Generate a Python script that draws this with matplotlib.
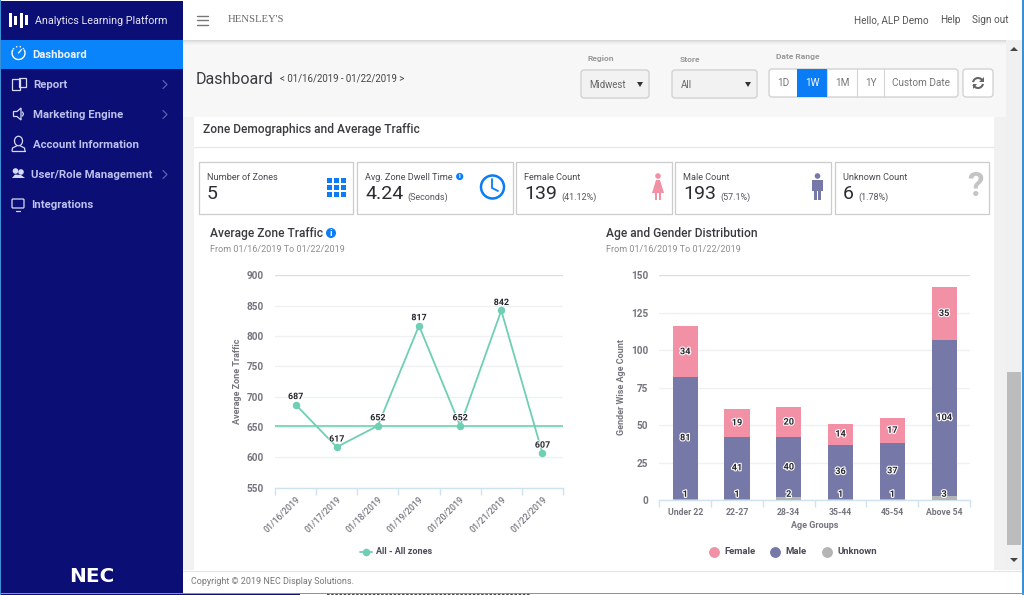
import matplotlib
matplotlib.use('Agg')
import matplotlib.pyplot as plt
import matplotlib.patheffects as pe
from matplotlib.patches import Rectangle, FancyBboxPatch, Circle, Polygon, Arc, Ellipse

plt.rcParams['font.family'] = ['Roboto', 'DejaVu Sans']

# chart data
dates = ['01/16/2019', '01/17/2019', '01/18/2019', '01/19/2019', '01/20/2019', '01/21/2019', '01/22/2019']
traffic = [687, 617, 652, 817, 652, 842, 607]
traffic_avg = 652
traffic_ticks = [550, 600, 650, 700, 750, 800, 850, 900]

age_groups = ['Under 22', '22-27', '28-34', '35-44', '45-54', 'Above 54']
unknown = [1, 1, 2, 1, 1, 3]
male = [81, 41, 40, 36, 37, 104]
female = [34, 19, 20, 14, 17, 35]
age_ticks = [0, 25, 50, 75, 100, 125, 150]

# sidebar and card text
menu_items = ['Report', 'Marketing Engine', 'Account Information', 'User/Role Management', 'Integrations']
card_titles = ['Number of Zones', 'Avg. Zone Dwell Time', 'Female Count', 'Male Count', 'Unknown Count']
card_values = ['5', '4.24', '139', '193', '6']
card_notes = ['', '(Seconds)', '(41.12%)', '(57.1%)', '(1.78%)']
range_buttons = ['1D', '1W', '1M', '1Y', 'Custom Date']

NAVY = '#0b0f75'
BLUE = '#0a7cf5'
TEAL = '#6fcfb4'
PINK = '#f291a6'
PURPLE = '#7679a8'
GREY = '#b4b4b4'
DARK = '#33343c'
MID = '#75757f'
AXIS = '#cfe3ee'
GRID = '#eef0f2'
ICON = '#d8daf4'

W, H = 1024, 595
fig = plt.figure(figsize=(W / 100, H / 100), dpi=100, facecolor='white')

# page layer in pixel coordinates
ui = fig.add_axes([0, 0, 1, 1])
ui.set_xlim(0, W)
ui.set_ylim(H, 0)
ui.axis('off')


def box(x0, y0, x1, y1, fc, ec='none', lw=0, z=1):
    ui.add_patch(Rectangle((x0, y0), x1 - x0, y1 - y0, fc=fc, ec=ec, lw=lw, zorder=z))


def label(x, y, s, px=10, color=DARK, weight='normal', ha='left', va='center', **kw):
    return ui.text(x, y, s, fontsize=px * 0.72, color=color, fontweight=weight, ha=ha, va=va, zorder=5, **kw)


def rounded(x0, y0, x1, y1, fc, ec='#cfcfcf', r=3):
    ui.add_patch(FancyBboxPatch((x0 + r, y0 + r), x1 - x0 - 2 * r, y1 - y0 - 2 * r,
                                boxstyle='round,pad=%d' % r, fc=fc, ec=ec, lw=0.9, zorder=2))


def stroke(xs, ys, color=ICON, lw=0.9, z=5):
    ui.plot(xs, ys, color=color, lw=lw, zorder=z, solid_capstyle='round')


# backgrounds
box(183, 40, 1006, 117, '#f7f7f7')
box(183, 117, 194, 570, '#f1f1f1')
box(194, 117, 994, 570, 'white')
box(994, 117, 1006, 570, '#f1f1f1')
box(1006, 40, 1022, 570, '#f0f0f0')
box(183, 570, 1022, 593, 'white')
stroke([183, 1022], [570.5, 570.5], color='#e4e4e4', lw=0.8, z=2)
box(1007, 372, 1021, 545, '#bcbcbc', z=2)
ui.add_patch(Polygon([[1010, 51], [1018, 51], [1014, 47]], fc='#444444', zorder=3))
ui.add_patch(Polygon([[1010, 558], [1018, 558], [1014, 562]], fc='#444444', zorder=3))
box(1022, 0, 1024, 595, '#3b8fd6', z=3)
box(0, 592.5, 1024, 593.5, '#5aa0dc', z=4)
box(0, 593.5, 300, 595, NAVY, z=4)
ui.plot([327, 530], [594.6, 594.6], color='#222222', lw=1.2, ls=(0, (1.5, 1)), zorder=4)

# top bar with its soft shadow
box(183, 1, 1022, 40, 'white', z=2)
shadow = ['#d9d9d9', '#e2e2e2', '#eaeaea', '#f0f0f0', '#f4f4f4']
for i, c in enumerate(shadow):
    box(183, 40 + i, 1006, 41 + i, c, z=2)
for yy in [15.5, 20, 24.5]:
    stroke([197, 208], [yy, yy], color='#777777', lw=1.0)
label(228, 20, "HENSLEY'S", px=10.6, color='#666666', family='Liberation Serif')
label(854, 20, 'Hello, ALP Demo', px=10, color='#555555')
label(940, 20, 'Help', px=10, color='#555555')
label(972, 20, 'Sign out', px=10, color='#555555')

# sidebar
box(0, 1, 183, 592.5, NAVY, z=2)
box(0, 40, 183, 69, '#0a84fb', z=3)
box(0, 0, 1, 595, '#3b8fd6', z=4)
for bx, bh in zip([10, 15, 21, 26], [14, 9, 15, 10]):
    box(bx - 1.5, 20 - bh / 2, bx + 1.5, 20 + bh / 2, 'white', z=4)
label(35, 20.5, 'Analytics Learning Platform', px=10.8, color='#e8e8f5')
label(32, 54.5, 'Dashboard', px=11.3, color='#eef4ff', weight='bold')
menu_y = [84.5, 114.5, 144.5, 174.5, 204.5]
menu_x = [33, 33, 33, 31, 31]
for s, y, x in zip(menu_items, menu_y, menu_x):
    label(x, y, s, px=11.4, color='#bcc0ee', weight='bold')
for y in [84.5, 114.5, 174.5]:
    stroke([163, 167, 163], [y - 4, y, y + 4], color='#5a5fb0')

# sidebar icons
ui.add_patch(Arc((18.5, 53), 13, 13, theta1=-30, theta2=210, ec='white', lw=1.0, zorder=5))
ui.add_patch(Arc((18.5, 53), 13, 13, theta1=215, theta2=325, ec='white', lw=1.0, zorder=5, ls=':'))
stroke([18.5, 21.5], [53, 49.5], color='white')
box(12, 79, 20, 90, 'none', ec=ICON, lw=0.9, z=5)
box(19, 78, 25.5, 87, 'none', ec=ICON, lw=0.9, z=5)
ui.add_patch(Polygon([[13.5, 111.5], [17, 111.5], [21, 108], [21, 120], [17, 116.5], [13.5, 116.5]],
                     fc='none', ec=ICON, lw=0.9, zorder=5))
stroke([22.5, 23.5, 22.5], [112, 114, 116])
ui.add_patch(Ellipse((18.5, 141), 8, 9.5, fc='none', ec=ICON, lw=0.9, zorder=5))
stroke([12, 12.5, 16.5], [151, 148, 146])
stroke([25, 24.5, 20.5], [151, 148, 146])
stroke([12, 25], [151, 151])
ui.add_patch(Circle((15.5, 171), 2.8, fc=ICON, zorder=5))
ui.add_patch(Circle((21, 172), 2.8, fc=ICON, zorder=5))
ui.add_patch(Polygon([[12, 178], [15, 174.5], [21, 175], [25, 178]], fc=ICON, zorder=5))
rounded(12, 199, 24, 208, 'none', ec=ICON, r=1)
stroke([16, 20], [210.5, 210.5])
label(91.5, 577, 'NEC', px=20, color='white', weight='bold', ha='center', family='DejaVu Sans')

# header row
label(196, 79, 'Dashboard', px=16, color='#3a3a40')
label(280, 79, '< 01/16/2019 - 01/22/2019 >', px=9.7, color='#444444')
label(588, 59, 'Region', px=8.5, color='#999999', weight='bold')
label(680, 59, 'Store', px=8.5, color='#999999', weight='bold')
label(776, 57, 'Date Range', px=8.5, color='#999999', weight='bold')
rounded(581, 70, 649, 98, '#f2f2f2')
rounded(672, 70, 757, 98, '#f2f2f2')
label(589, 85, 'Midwest', px=9.7, color='#666666')
label(681, 85, 'All', px=9.7, color='#666666')
for tx in [640, 748]:
    ui.add_patch(Polygon([[tx - 3, 82], [tx + 3, 82], [tx, 87]], fc='#333333', zorder=5))
rounded(769, 69, 958, 97, 'white')
edges = [769, 797, 827, 857, 884, 958]
for i, s in enumerate(range_buttons):
    if i == 1:
        box(edges[i], 69, edges[i + 1], 97, BLUE, z=3)
    elif i > 1:
        stroke([edges[i], edges[i]], [69, 97], color='#d5d5d5', lw=0.8, z=3)
    label((edges[i] + edges[i + 1]) / 2, 83.5, s, px=10, color='white' if i == 1 else '#777777', ha='center')
rounded(963, 69, 993, 97, 'white')
ui.add_patch(Arc((978, 83), 10, 10, theta1=190, theta2=340, ec='#666666', lw=1.5, zorder=5))
ui.add_patch(Arc((978, 83), 10, 10, theta1=10, theta2=160, ec='#666666', lw=1.5, zorder=5))
ui.add_patch(Polygon([[983.5, 77], [983.5, 82], [979, 82]], fc='#666666', zorder=5))
ui.add_patch(Polygon([[972.5, 89], [972.5, 84], [977, 84]], fc='#666666', zorder=5))

# section title
label(203, 130, 'Zone Demographics and Average Traffic', px=12, color='#3a3a40', weight='medium')
stroke([194, 994], [146.5, 146.5], color='#e6e6e6', lw=0.8, z=2)

# summary cards
card_x0 = [199, 357, 516, 675, 835]
card_x1 = [353, 513, 672, 831, 989]
note_x = [0, 407, 561, 720, 858]
for x0, x1, t, v, n, nx in zip(card_x0, card_x1, card_titles, card_values, card_notes, note_x):
    box(x0, 162, x1, 214, 'white', ec='#cccccc', lw=0.9, z=2)
    label(x0 + 8, 177, t, px=9.2, color='#4a4a50')
    label(x0 + 8, 194, v, px=19.5, color='#2b2b33')
    if n:
        label(nx, 197, n, px=9, color='#55555c')

# card icons
for cx in [329, 336, 343]:
    for cy in [180.5, 187.5, 194.5]:
        box(cx - 2.5, cy - 2.5, cx + 2.5, cy + 2.5, BLUE, z=4)
ui.add_patch(Circle((492.5, 187), 11.5, fc='none', ec=BLUE, lw=1.8, zorder=4))
stroke([492, 492, 498], [179, 188, 191], color=BLUE, lw=1.3)
ui.add_patch(Circle((658, 176), 2.8, fc=PINK, zorder=4))
ui.add_patch(Polygon([[656, 180], [660, 180], [664, 193], [652, 193]], fc=PINK, zorder=4))
box(655, 193, 657.3, 200, PINK, z=4)
box(658.7, 193, 661, 200, PINK, z=4)
ui.add_patch(Circle((817.5, 176), 2.8, fc=PURPLE, zorder=4))
box(812, 180, 823, 191, PURPLE, z=4)
box(814, 191, 817, 200, PURPLE, z=4)
box(818, 191, 821, 200, PURPLE, z=4)
label(975, 187, '?', px=33, color='#c4c4c4', weight='bold', ha='center')
for ix, iy, r in [(459.7, 176.5, 3.6), (331, 233, 5)]:
    ui.add_patch(Circle((ix, iy), r, fc=BLUE, zorder=4))
    label(ix, iy, 'i', px=r * 1.9, color='white', weight='bold', ha='center')

# chart headings
label(210, 233, 'Average Zone Traffic', px=12, color='#3a3a40', weight='medium')
label(210, 250, 'From 01/16/2019 To 01/22/2019', px=9, color='#8d8d8d')
label(606, 233, 'Age and Gender Distribution', px=12, color='#3a3a40', weight='medium')
label(606, 250, 'From 01/16/2019 To 01/22/2019', px=9, color='#8d8d8d')
label(237, 381, 'Average Zone Traffic', px=9, color=MID, weight='bold', ha='center', rotation=90)
label(621, 387, 'Gender Wise Age Count', px=9, color=MID, weight='bold', ha='center', rotation=90)
label(815, 526, 'Age Groups', px=9, color=MID, weight='bold', ha='center')
label(191, 582, 'Copyright \u00a9 2019 NEC Display Solutions.', px=9, color='#777777')

# legends
stroke([360, 372], [551.5, 551.5], color=TEAL, lw=1.3)
ui.scatter([366], [551.5], s=20, color=TEAL, zorder=6)
label(376, 551.5, 'All - All zones', px=9, color='#4a4a58', weight='bold')
leg_x = [714, 775, 827]
leg_txt = ['Female', 'Male', 'Unknown']
leg_col = [PINK, PURPLE, GREY]
for lx, lt, lc in zip(leg_x, leg_txt, leg_col):
    ui.scatter([lx], [551.5], s=46, color=lc, zorder=5)
    label(lx + 10, 551.5, lt, px=9.5, color='#4a4a58', weight='bold')


def chart_axes(x0, x1, y_top, y_bot):
    ax = fig.add_axes([x0 / W, 1 - y_bot / H, (x1 - x0) / W, (y_bot - y_top) / H])
    ax.patch.set_alpha(0)
    for side in ['top', 'right', 'left']:
        ax.spines[side].set_visible(False)
    ax.spines['bottom'].set_color(AXIS)
    ax.spines['bottom'].set_linewidth(1)
    ax.grid(axis='y', color=GRID, lw=1)
    ax.set_axisbelow(True)
    ax.tick_params(axis='y', length=0, pad=8, labelsize=7.2, labelcolor=MID)
    ax.tick_params(axis='x', length=5, width=1, color=AXIS, labelcolor=MID)
    return ax


# average zone traffic
ax1 = chart_axes(275, 563, 275.3, 487.7)
xs = list(range(len(dates)))
ax1.set_xlim(-0.5, len(dates) - 0.5)
ax1.set_ylim(traffic_ticks[0], traffic_ticks[-1])
ax1.set_yticks(traffic_ticks)
for t in ax1.get_yticklabels():
    t.set_fontweight('bold')
ax1.get_ygridlines()[-1].set_color(AXIS)
ax1.axhline(traffic_avg, color=TEAL, lw=1.2, zorder=2)
ax1.plot(xs, traffic, color=TEAL, lw=1.3, marker='o', ms=4.4, zorder=3, clip_on=False)
ax1.set_xticks([i - 0.5 for i in range(len(dates) + 1)])
ax1.set_xticklabels([])
ax1.set_xticks(xs, minor=True)
ax1.set_xticklabels(dates, minor=True, rotation=45, ha='right', rotation_mode='anchor',
                    fontsize=6.3, color=MID, fontweight='medium')
ax1.tick_params(axis='x', which='minor', length=0, pad=5)
for x, v in zip(xs, traffic):
    ax1.annotate(str(v), (x, v), xytext=(0, 2.5), textcoords='offset points', ha='center', va='bottom',
                 fontsize=6.4, fontweight='bold', color='#26262e', zorder=5,
                 path_effects=[pe.withStroke(linewidth=1.2, foreground='white')])

# age and gender distribution
ax2 = chart_axes(659.3, 970, 275.3, 500)
pos = list(range(len(age_groups)))
ax2.set_xlim(-0.5, len(age_groups) - 0.5)
ax2.set_ylim(age_ticks[0], age_ticks[-1])
ax2.set_yticks(age_ticks)
for t in ax2.get_yticklabels():
    t.set_fontweight('bold')
ax2.get_ygridlines()[-1].set_color(AXIS)
male_bottom = unknown
female_bottom = [u + m for u, m in zip(unknown, male)]
ax2.bar(pos, unknown, 0.485, color=GREY, zorder=3)
ax2.bar(pos, male, 0.485, bottom=male_bottom, color=PURPLE, zorder=3)
ax2.bar(pos, female, 0.485, bottom=female_bottom, color=PINK, zorder=3)
ax2.set_xticks([i - 0.5 for i in range(len(age_groups) + 1)])
ax2.set_xticklabels([])
ax2.set_xticks(pos, minor=True)
ax2.set_xticklabels(age_groups, minor=True, fontsize=6.2, color=MID, fontweight='bold')
ax2.tick_params(axis='x', which='minor', length=0, pad=5.5)
halo = [pe.withStroke(linewidth=1.6, foreground='white')]
for i in pos:
    ax2.text(i, 3.8, str(unknown[i]), ha='center', va='center', fontsize=6.6, fontweight='bold',
             color='#26262e', zorder=5, path_effects=halo)
    ax2.text(i, unknown[i] + male[i] / 2, str(male[i]), ha='center', va='center', fontsize=6.6,
             fontweight='bold', color='#26262e', zorder=5, path_effects=halo)
    ax2.text(i, female_bottom[i] + female[i] / 2, str(female[i]), ha='center', va='center', fontsize=6.6,
             fontweight='bold', color='#26262e', zorder=5, path_effects=halo)

fig.savefig('out.png', dpi=100)
